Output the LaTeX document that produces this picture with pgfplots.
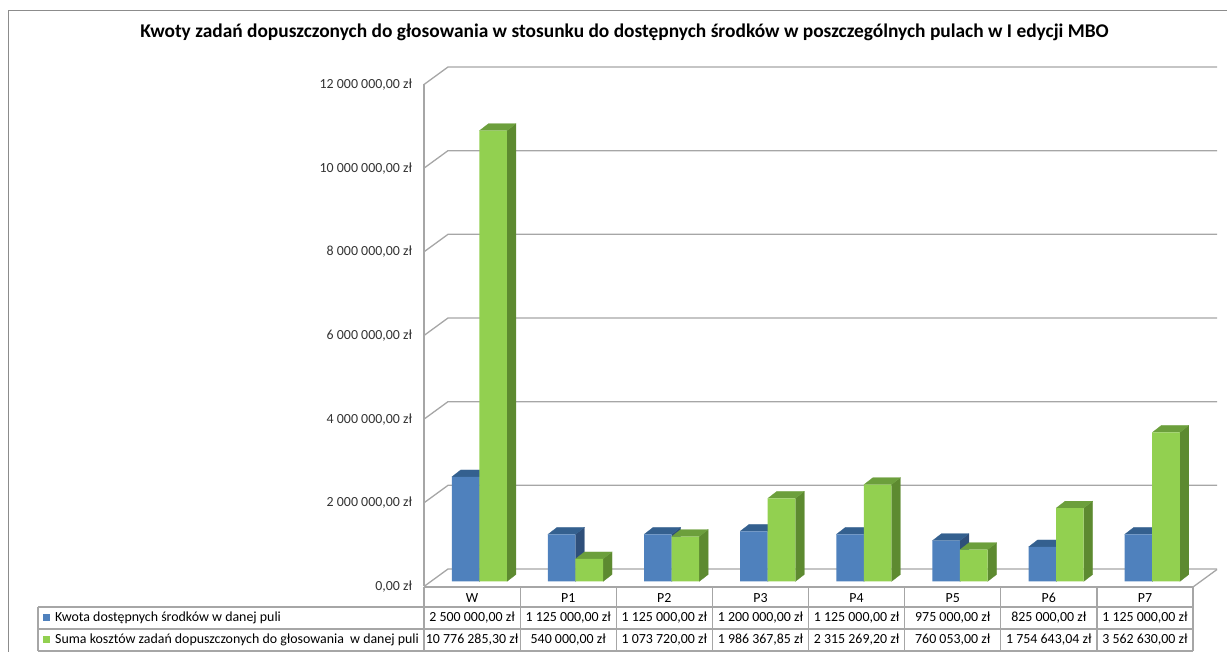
\documentclass[border=0pt]{standalone}
\usepackage{fontspec}
\setmainfont{Carlito}
\usepackage{pgfplots}
\usepackage{pgfplotstable}
\pgfplotsset{compat=1.18}
\definecolor{gridc}{HTML}{A6A6A6}
\definecolor{framec}{HTML}{8C8C8C}
\definecolor{bluef}{HTML}{4F81BD}
\definecolor{blues}{HTML}{2F4F7A}
\definecolor{bluet}{HTML}{34608F}
\definecolor{greenf}{HTML}{92D050}
\definecolor{greens}{HTML}{5D8A30}
\definecolor{greent}{HTML}{6C9F3C}
\newcommand{\tf}{\fontsize{13.9}{16}\selectfont}
\pgfplotstableread{
i kwota suma
0 2500000 10776285.30
1 1125000 540000
2 1125000 1073720
3 1200000 1986367.85
4 1125000 2315269.20
5 975000 760053
6 825000 1754643.04
7 1125000 3562630
}\bars
\pgfplotstableread{
x f d
0 0 0
0.0937 0 1
0.0937 1 1
0 1 0
}\sidepoly
\pgfplotstableread{
x f d
0 1 0
0.0937 1 1
-0.1926 1 1
-0.2863 1 0
}\toppoly
\newcommand{\depthfaces}[4]{%
  \addplot[fill=#3,draw=#3,line width=0.2pt] table[x expr=\thisrow{x}+#1,y expr=\thisrow{f}*#2+\thisrow{d}*167000]{\sidepoly};
  \addplot[fill=#4,draw=#4,line width=0.2pt] table[x expr=\thisrow{x}+#1,y expr=\thisrow{f}*#2+\thisrow{d}*167000]{\toppoly};
}
\begin{document}
\begin{tikzpicture}
\useasboundingbox (0,0) rectangle (1227pt,652pt);
\begin{axis}[
  at={(424pt,70.5pt)},anchor=south west,scale only axis,
  width=769pt,height=502pt,
  xmin=-0.5,xmax=7.5,ymin=0,ymax=12000000,clip=false,
  axis line style={draw=none},major tick length=0pt,
  xtick={0,...,7},xticklabels={W,P1,P2,P3,P4,P5,P6,P7},
  xticklabel style={font=\tf,anchor=center,yshift=-16.5pt},
  ytick={0,2000000,4000000,6000000,8000000,10000000,12000000},
  yticklabels={{0,00 zł},{2 000 000,00 zł},{4 000 000,00 zł},{6 000 000,00 zł},{8 000 000,00 zł},{10 000 000,00 zł},{12 000 000,00 zł}},
  yticklabel style={font=\tf,anchor=east,xshift=-8.5pt,yshift=-5pt,text=black!80},
  scaled y ticks=false,
]
\pgfplotsinvokeforeach{0,2000000,4000000,6000000,8000000,10000000,12000000}{
  \draw[gridc,line width=1.3pt] (axis cs:-0.5,#1) ++(0pt,-5pt) -- ++(24pt,17.5pt) -- ++(769pt,0pt);
}
\draw[gridc,line width=1.3pt] (axis cs:-0.5,0) ++(0pt,-5pt) -- ++(0pt,502pt);
\draw[gridc,line width=1.3pt] (axis cs:7.5,0) ++(0pt,-5.5pt) -- ++(24pt,17.5pt);
% depth faces
\depthfaces{0.075}{2500000}{blues}{bluet}
\depthfaces{1.075}{1125000}{blues}{bluet}
\depthfaces{2.075}{1125000}{blues}{bluet}
\depthfaces{3.075}{1200000}{blues}{bluet}
\depthfaces{4.075}{1125000}{blues}{bluet}
\depthfaces{5.075}{975000}{blues}{bluet}
\depthfaces{6.075}{825000}{blues}{bluet}
\depthfaces{7.075}{1125000}{blues}{bluet}
\addplot[ybar,bar width=0.2863,bar shift=-0.068,fill=bluef,draw=none] table[x=i,y=kwota]{\bars};
\depthfaces{0.3625}{10776285.30}{greens}{greent}
\depthfaces{1.3625}{540000}{greens}{greent}
\depthfaces{2.3625}{1073720}{greens}{greent}
\depthfaces{3.3625}{1986367.85}{greens}{greent}
\depthfaces{4.3625}{2315269.20}{greens}{greent}
\depthfaces{5.3625}{760053}{greens}{greent}
\depthfaces{6.3625}{1754643.04}{greens}{greent}
\depthfaces{7.3625}{3562630}{greens}{greent}
\addplot[ybar,bar width=0.2863,bar shift=0.219,fill=greenf,draw=none] table[x=i,y=suma]{\bars};
\end{axis}
\begin{scope}[x=1pt,y=-1pt,yshift=652pt]
\draw[framec,line width=1.3pt] (8.5,652) -- (8.5,10.5) -- (1227,10.5);
\node[font=\fontsize{19.4}{22}\bfseries\selectfont,anchor=center] at (624.5,32.5) {Kwoty zadań dopuszczonych do głosowania w stosunku do dostępnych środków w poszczególnych pulach w I edycji MBO};
% table grid
\draw[gridc,line width=1.2pt] (424,587) -- (1193,587);
\draw[gridc,line width=1.2pt] (38,607) -- (1193,607);
\draw[gridc,line width=1.2pt] (38,629) -- (1193,629);
\draw[gridc,line width=1.2pt] (38,651) -- (1193,651);
\draw[gridc,line width=1.2pt] (38,607) -- (38,651);
\foreach \x in {424,520.1,616.2,712.4,808.5,904.6,1000.7,1096.9,1193} \draw[gridc,line width=1.2pt] (\x,587) -- (\x,651);
\fill[bluef] (43,614) rectangle (50,621);
\fill[greenf] (43,636) rectangle (50,643);
\node[font=\tf,anchor=west,inner sep=0pt] at (55,618) {Kwota dostępnych środków w danej puli};
\node[font=\tf,anchor=west,inner sep=0pt] at (55,640) {Suma kosztów zadań dopuszczonych do głosowania~ w danej puli};
\foreach \i/\a/\b in {0/{2 500 000,00 zł}/{10 776 285,30 zł},1/{1 125 000,00 zł}/{540 000,00 zł},2/{1 125 000,00 zł}/{1 073 720,00 zł},3/{1 200 000,00 zł}/{1 986 367,85 zł},4/{1 125 000,00 zł}/{2 315 269,20 zł},5/{975 000,00 zł}/{760 053,00 zł},6/{825 000,00 zł}/{1 754 643,04 zł},7/{1 125 000,00 zł}/{3 562 630,00 zł}}{
  \pgfmathsetmacro{\cx}{424+96.125*(\i+0.5)}
  \node[font=\tf,inner sep=0pt] at (\cx,618) {\a};
  \node[font=\tf,inner sep=0pt] at (\cx,640) {\b};
}
\end{scope}
\end{tikzpicture}
\end{document}
